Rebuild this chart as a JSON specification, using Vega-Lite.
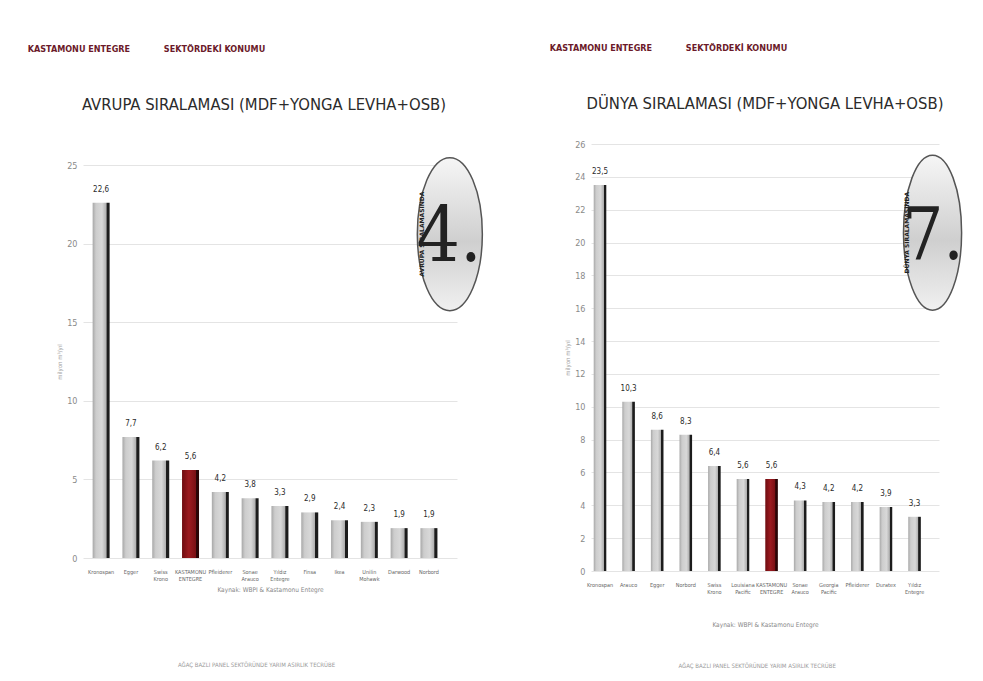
{
  "$schema": "https://vega.github.io/schema/vega-lite/v6.json",
  "background": "white",
  "padding": {"left": 27, "top": 43, "right": 5, "bottom": 5},
  "spacing": 63,
  "config": {
    "view": {"stroke": null},
    "locale": {"number": {"decimal": ",", "thousands": ".", "grouping": [3], "currency": ["", " TL"]}},
    "font": "DejaVu Sans Condensed, Liberation Sans Narrow, sans-serif",
    "axisY": {"ticks": false, "domain": false, "gridColor": "#e4e4e4", "labelColor": "#8a8a8a", "labelFontSize": 9, "labelPadding": 6, "titleFontSize": 6, "titleColor": "#a0a0a0", "titleFontWeight": "normal", "titlePadding": 4},
    "axisX": {"ticks": false, "domain": false, "labelAngle": 0, "labelColor": "#666", "labelFontSize": 5.5, "labelPadding": 11, "labelOverlap": false, "titleFontSize": 6.5, "titleColor": "#888", "titleFontWeight": "normal"}
  },
  "hconcat": [
    {
      "title": {"text": "AĞAÇ BAZLI PANEL SEKTÖRÜNDE YARIM ASIRLIK TECRÜBE", "orient": "bottom", "anchor": "middle", "fontSize": 6, "color": "#9a9a9a", "fontWeight": "normal", "offset": 69},
      "vconcat": [
        {
          "title": {"text": "KASTAMONU ENTEGRE \u00a0\u00a0\u00a0\u00a0\u00a0\u00a0\u00a0\u00a0\u00a0\u00a0\u00a0SEKTÖRDEKİ KONUMU", "anchor": "start", "fontSize": 9, "color": "#6b1a2a", "fontWeight": "bold", "offset": 43, "dx": -29},
          "vconcat": [
            {
              "title": {"text": "AVRUPA SIRALAMASI (MDF+YONGA LEVHA+OSB)", "anchor": "middle", "fontSize": 16.5, "color": "#2b2b2b", "fontWeight": "normal", "offset": 31, "dx": -7},
              "spacing": 0,
              "vconcat": [
                {"width": 374, "height": 10, "data": {"values": [{}]}, "mark": {"type": "point", "opacity": 0}},
                {
                  "width": 374,
                  "height": 393,
                  "data": {"values": [
                    {"firma": "Kronospan", "kapasite": 22.6, "vurgu": false},
                    {"firma": "Egger", "kapasite": 7.7, "vurgu": false},
                    {"firma": "Swiss Krono", "kapasite": 6.2, "vurgu": false},
                    {"firma": "KASTAMONU ENTEGRE", "kapasite": 5.6, "vurgu": true},
                    {"firma": "Pfleiderer", "kapasite": 4.2, "vurgu": false},
                    {"firma": "Sonae Arauco", "kapasite": 3.8, "vurgu": false},
                    {"firma": "Yıldız Entegre", "kapasite": 3.3, "vurgu": false},
                    {"firma": "Finsa", "kapasite": 2.9, "vurgu": false},
                    {"firma": "Ikea", "kapasite": 2.4, "vurgu": false},
                    {"firma": "Unilin Mohawk", "kapasite": 2.3, "vurgu": false},
                    {"firma": "Darwood", "kapasite": 1.9, "vurgu": false},
                    {"firma": "Norbord", "kapasite": 1.9, "vurgu": false}
                  ]},
                  "encoding": {
                    "x": {"field": "firma", "type": "nominal", "sort": null,
                      "scale": {"domain": ["Kronospan", "Egger", "Swiss Krono", "KASTAMONU ENTEGRE", "Pfleiderer", "Sonae Arauco", "Yıldız Entegre", "Finsa", "Ikea", "Unilin Mohawk", "Darwood", "Norbord"], "paddingInner": 0.43, "paddingOuter": 0.49, "align": 0.33},
                      "axis": {"title": "Kaynak: WBPI & Kastamonu Entegre", "titlePadding": 4, "labelExpr": "split(datum.label, ' ')"}},
                    "y": {"field": "kapasite", "type": "quantitative", "scale": {"domain": [0, 25]}, "axis": {"title": "milyon m³/yıl", "values": [0, 5, 10, 15, 20, 25]}}
                  },
                  "layer": [
                    {"transform": [{"filter": "!datum.vurgu"}],
                     "mark": {"type": "bar", "fill": {"gradient": "linear", "x1": 0, "y1": 0, "x2": 1, "y2": 0, "stops": [{"offset": 0, "color": "#a8a8a8"}, {"offset": 0.2, "color": "#cdcdcd"}, {"offset": 0.55, "color": "#d8d8d8"}, {"offset": 0.8, "color": "#b0b0b0"}, {"offset": 0.84, "color": "#1c1c1c"}, {"offset": 1, "color": "#1c1c1c"}]}}},
                    {"transform": [{"filter": "datum.vurgu"}],
                     "mark": {"type": "bar", "fill": {"gradient": "linear", "x1": 0, "y1": 0, "x2": 1, "y2": 0, "stops": [{"offset": 0, "color": "#6e0c10"}, {"offset": 0.4, "color": "#9c1a1f"}, {"offset": 0.8, "color": "#7a1014"}, {"offset": 0.84, "color": "#2a0405"}, {"offset": 1, "color": "#2a0405"}]}}},
                    {"mark": {"type": "text", "baseline": "bottom", "dy": -9, "fontSize": 8, "color": "#2b2b2b"},
                     "encoding": {"text": {"field": "kapasite", "type": "quantitative", "format": ".1f"}}},
                    {"transform": [{"filter": "datum.firma == 'Norbord'"}],
                     "mark": {"type": "point", "filled": true, "shape": "M0,-1A0.425,1 0 1,1 0,1A0.425,1 0 1,1 0,-1Z", "size": 23409, "stroke": "#555", "strokeWidth": 1.5, "opacity": 1,
                       "fill": {"gradient": "linear", "x1": 0, "y1": 0, "x2": 0, "y2": 1, "stops": [{"offset": 0, "color": "#f6f6f6"}, {"offset": 0.55, "color": "#cfcfcf"}, {"offset": 1, "color": "#f0f0f0"}]}},
                     "encoding": {"x": {"field": "firma", "type": "nominal", "bandPosition": 1.73}, "y": {"datum": 20.6}}},
                    {"transform": [{"filter": "datum.firma == 'Norbord'"}],
                     "mark": {"type": "text", "font": "DejaVu Serif Condensed, Liberation Serif, serif", "fontSize": 76, "color": "#222", "baseline": "middle", "align": "center", "dy": 4},
                     "encoding": {"x": {"field": "firma", "type": "nominal", "bandPosition": 1.68}, "y": {"datum": 20.6}, "text": {"value": "4."}}},
                    {"transform": [{"filter": "datum.firma == 'Norbord'"}],
                     "mark": {"type": "text", "font": "DejaVu Sans, sans-serif", "fontSize": 6, "fontWeight": "bold", "color": "#222", "baseline": "middle", "align": "center", "angle": 270},
                     "encoding": {"x": {"field": "firma", "type": "nominal", "bandPosition": 0.08}, "y": {"datum": 20.6}, "text": {"value": "AVRUPA SIRALAMASINDA"}}}
                  ]
                }
              ]
            }
          ]
        }
      ]
    },
    {
      "title": {"text": "AĞAÇ BAZLI PANEL SEKTÖRÜNDE YARIM ASIRLIK TECRÜBE", "orient": "bottom", "anchor": "middle", "fontSize": 6, "color": "#9a9a9a", "fontWeight": "normal", "offset": 35},
      "vconcat": [
        {
          "title": {"text": "KASTAMONU ENTEGRE \u00a0\u00a0\u00a0\u00a0\u00a0\u00a0\u00a0\u00a0\u00a0\u00a0\u00a0SEKTÖRDEKİ KONUMU", "anchor": "start", "fontSize": 9, "color": "#6b1a2a", "fontWeight": "bold", "offset": 43, "dx": -15},
          "vconcat": [
            {
              "width": 348,
              "height": 427,
              "title": {"text": "DÜNYA SIRALAMASI (MDF+YONGA LEVHA+OSB)", "anchor": "middle", "fontSize": 16.5, "color": "#2b2b2b", "fontWeight": "normal", "offset": 28},
              "data": {"values": [
                {"firma": "Kronospan", "kapasite": 23.5, "vurgu": false},
                {"firma": "Arauco", "kapasite": 10.3, "vurgu": false},
                {"firma": "Egger", "kapasite": 8.6, "vurgu": false},
                {"firma": "Norbord", "kapasite": 8.3, "vurgu": false},
                {"firma": "Swiss Krono", "kapasite": 6.4, "vurgu": false},
                {"firma": "Louisiana Pacific", "kapasite": 5.6, "vurgu": false},
                {"firma": "KASTAMONU ENTEGRE", "kapasite": 5.6, "vurgu": true},
                {"firma": "Sonae Arauco", "kapasite": 4.3, "vurgu": false},
                {"firma": "Georgia Pacific", "kapasite": 4.2, "vurgu": false},
                {"firma": "Pfleiderer", "kapasite": 4.2, "vurgu": false},
                {"firma": "Duratex", "kapasite": 3.9, "vurgu": false},
                {"firma": "Yıldız Entegre", "kapasite": 3.3, "vurgu": false}
              ]},
              "encoding": {
                "x": {"field": "firma", "type": "nominal", "sort": null,
                  "scale": {"domain": ["Kronospan", "Arauco", "Egger", "Norbord", "Swiss Krono", "Louisiana Pacific", "KASTAMONU ENTEGRE", "Sonae Arauco", "Georgia Pacific", "Pfleiderer", "Duratex", "Yıldız Entegre"], "paddingInner": 0.56, "paddingOuter": 0.365, "align": 0.13},
                  "axis": {"title": "Kaynak: WBPI & Kastamonu Entegre", "titlePadding": 26, "labelExpr": "split(datum.label, ' ')"}},
                "y": {"field": "kapasite", "type": "quantitative", "scale": {"domain": [0, 26]}, "axis": {"title": "milyon m³/yıl", "values": [0, 2, 4, 6, 8, 10, 12, 14, 16, 18, 20, 22, 24, 26]}}
              },
              "layer": [
                {"transform": [{"filter": "!datum.vurgu"}],
                 "mark": {"type": "bar", "fill": {"gradient": "linear", "x1": 0, "y1": 0, "x2": 1, "y2": 0, "stops": [{"offset": 0, "color": "#a8a8a8"}, {"offset": 0.2, "color": "#cdcdcd"}, {"offset": 0.55, "color": "#d8d8d8"}, {"offset": 0.78, "color": "#b0b0b0"}, {"offset": 0.82, "color": "#1c1c1c"}, {"offset": 1, "color": "#1c1c1c"}]}}},
                {"transform": [{"filter": "datum.vurgu"}],
                 "mark": {"type": "bar", "fill": {"gradient": "linear", "x1": 0, "y1": 0, "x2": 1, "y2": 0, "stops": [{"offset": 0, "color": "#6e0c10"}, {"offset": 0.4, "color": "#9c1a1f"}, {"offset": 0.78, "color": "#7a1014"}, {"offset": 0.82, "color": "#2a0405"}, {"offset": 1, "color": "#2a0405"}]}}},
                {"mark": {"type": "text", "baseline": "bottom", "dy": -9, "fontSize": 8, "color": "#2b2b2b"},
                 "encoding": {"text": {"field": "kapasite", "type": "quantitative", "format": ".1f"}}},
                {"transform": [{"filter": "datum.firma == 'Yıldız Entegre'"}],
                 "mark": {"type": "point", "filled": true, "shape": "M0,-1A0.375,1 0 1,1 0,1A0.375,1 0 1,1 0,-1Z", "size": 24025, "stroke": "#555", "strokeWidth": 1.5, "opacity": 1,
                   "fill": {"gradient": "linear", "x1": 0, "y1": 0, "x2": 0, "y2": 1, "stops": [{"offset": 0, "color": "#f6f6f6"}, {"offset": 0.55, "color": "#cfcfcf"}, {"offset": 1, "color": "#f0f0f0"}]}},
                 "encoding": {"x": {"field": "firma", "type": "nominal", "bandPosition": 1.93}, "y": {"datum": 20.6}}},
                {"transform": [{"filter": "datum.firma == 'Yıldız Entegre'"}],
                 "mark": {"type": "text", "font": "DejaVu Serif Condensed, Liberation Serif, serif", "fontSize": 72, "color": "#222", "baseline": "middle", "align": "center", "dy": 4},
                 "encoding": {"x": {"field": "firma", "type": "nominal", "bandPosition": 1.97}, "y": {"datum": 20.6}, "text": {"value": "7."}}},
                {"transform": [{"filter": "datum.firma == 'Yıldız Entegre'"}],
                 "mark": {"type": "text", "font": "DejaVu Sans, sans-serif", "fontSize": 6, "fontWeight": "bold", "color": "#222", "baseline": "middle", "align": "center", "angle": 270},
                 "encoding": {"x": {"field": "firma", "type": "nominal", "bandPosition": -0.1}, "y": {"datum": 20.6}, "text": {"value": "DÜNYA SIRALAMASINDA"}}}
              ]
            }
          ]
        }
      ]
    }
  ]
}
